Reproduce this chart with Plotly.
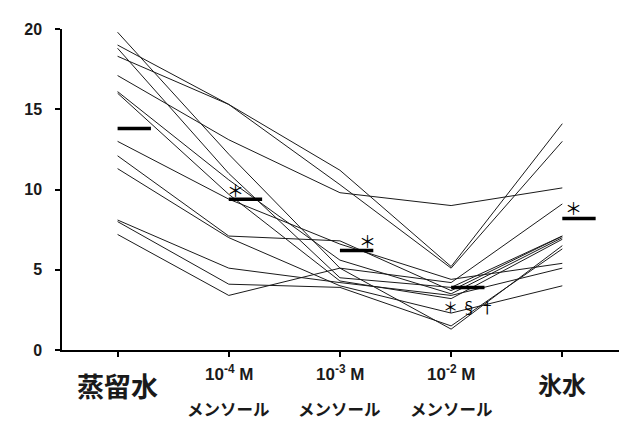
import plotly.graph_objects as go

# 条件ごとの値 (13例) - 図から読み取り
conditions = ["蒸留水", "10<sup>-4</sup> M", "10<sup>-3</sup> M", "10<sup>-2</sup> M", "氷水"]
distilled = [19.0, 18.3, 17.1, 19.8, 18.8, 16.1, 16.0, 13.0, 12.1, 11.3, 8.1, 8.0, 7.2]
menthol_4 = [15.3, 15.3, 13.1, 12.2, 11.0, 10.6, 9.7, 9.4, 7.1, 7.0, 5.1, 4.1, 3.4]
menthol_3 = [11.2, 10.3, 9.8, 5.1, 4.5, 5.6, 4.3, 6.6, 6.8, 4.0, 4.2, 3.9, 5.1]
menthol_2 = [5.2, 5.1, 9.0, 4.2, 3.9, 3.5, 3.2, 4.4, 3.7, 2.3, 3.4, 1.5, 1.3]
ice_water = [14.1, 13.0, 10.1, 9.1, 7.1, 7.0, 6.9, 5.4, 7.1, 4.0, 5.1, 6.3, 6.5]

# 平均値 (太線)
means = [13.8, 9.4, 6.2, 3.9, 8.2]
marks = ["", "＊", "＊", "＊ § †", "＊"]

fig = go.Figure()

# 個別の線
for row in zip(distilled, menthol_4, menthol_3, menthol_2, ice_water):
    fig.add_trace(go.Scatter(x=list(range(5)), y=list(row), mode="lines",
                             line={"color": "#1a1a1a", "width": 1}, showlegend=False,
                             hoverinfo="skip"))

# 平均値の太線
for i, m in enumerate(means):
    fig.add_trace(go.Scatter(x=[i, i + 0.3], y=[m, m], mode="lines",
                             line={"color": "black", "width": 3.5}, showlegend=False,
                             hoverinfo="skip"))

# 有意差記号
cjk = "Noto Sans CJK JP"
sym_pos = {1: (0.06, 10), 2: (0.25, 10), 4: (0.1, 11)}
for i, s in enumerate(marks):
    if not s:
        continue
    if i == 3:
        fig.add_annotation(x=i + 0.16, y=means[i], text=s, showarrow=False, yshift=-19,
                           font={"family": cjk, "size": 15, "color": "#000000"})
    else:
        dx, dy = sym_pos[i]
        fig.add_annotation(x=i + dx, y=means[i], text=s, showarrow=False, yshift=dy,
                           font={"family": cjk, "size": 17, "color": "#000000"})

# x軸ラベル
fig.add_annotation(x=0, y=-0.112, xref="x", yref="paper", yanchor="middle", text="<b>蒸留水</b>",
                   showarrow=False, font={"family": cjk, "size": 27, "color": "#1a1a1a"})
fig.add_annotation(x=4, y=-0.103, xref="x", yref="paper", yanchor="middle", text="<b>氷水</b>",
                   showarrow=False, font={"family": cjk, "size": 24, "color": "#1a1a1a"})
for i in (1, 2, 3):
    fig.add_annotation(x=i, y=-0.072, xref="x", yref="paper", yanchor="middle",
                       text="<b>" + conditions[i] + "</b>", showarrow=False,
                       font={"family": "Liberation Sans", "size": 17, "color": "#1a1a1a"})
    fig.add_annotation(x=i, y=-0.184, xref="x", yref="paper", yanchor="middle", text="<b>メンソール</b>",
                       showarrow=False, font={"family": cjk, "size": 16.5, "color": "#1a1a1a"})

fig.update_layout(width=640, height=430, plot_bgcolor="white", paper_bgcolor="white",
                  margin={"l": 62, "r": 21, "t": 29, "b": 80})
fig.update_xaxes(range=[-0.5, 4.51], tickvals=list(range(5)), ticktext=[""] * 5,
                 showgrid=False, zeroline=False, showline=True, linecolor="black", linewidth=1.5,
                 ticks="outside", ticklen=5, tickcolor="black", tickwidth=1.5, automargin=False)
fig.update_yaxes(range=[0, 20], tickvals=[0, 5, 10, 15, 20], showgrid=False, zeroline=False,
                 showline=True, linecolor="black", linewidth=1.5, ticks="outside", ticklen=5,
                 tickcolor="black", tickwidth=1.5, automargin=False, ticklabelstandoff=10,
                 tickfont={"family": "Liberation Sans", "size": 16, "color": "#1a1a1a", "weight": "bold"})

# ページ余白をなくして図を左上に合わせる
fig.write_html("out.html", config={"displayModeBar": False},
               post_script="document.body.style.margin='0';")
